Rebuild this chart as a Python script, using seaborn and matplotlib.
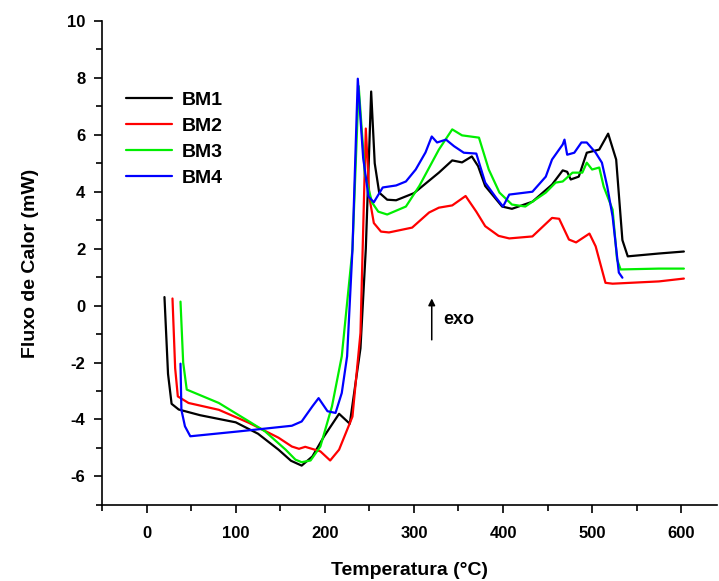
import numpy as np
import pandas as pd
import matplotlib
matplotlib.use('Agg')
import matplotlib.pyplot as plt
import seaborn as sns

# Curvas DSC (Temperatura em °C, Fluxo de calor em mW)
bm1_t = [20, 24, 28, 36, 60, 100, 125, 148, 162, 174, 186, 199, 216, 228, 240, 246,
         252, 256, 261, 270, 280, 300, 328, 343, 354, 365, 372, 380, 399, 410, 433,
         455, 467, 472, 476, 485, 494, 508, 518, 527, 534, 540, 575, 603]
bm1_y = [0.3, -2.4, -3.45, -3.65, -3.85, -4.1, -4.5, -5.06, -5.45, -5.62, -5.3, -4.6,
         -3.8, -4.15, -1.5, 2.0, 7.52, 5.0, 3.97, 3.72, 3.7, 3.95, 4.67, 5.1, 5.03,
         5.24, 4.9, 4.2, 3.48, 3.4, 3.65, 4.25, 4.75, 4.7, 4.43, 4.53, 5.37, 5.48,
         6.04, 5.13, 2.3, 1.73, 1.83, 1.9]

bm2_t = [29, 32, 35, 47, 81, 115, 148, 163, 171, 178, 195, 206, 216, 231, 240, 246,
         250, 255, 263, 272, 298, 317, 328, 343, 358, 370, 380, 395, 407, 433, 455,
         463, 474, 482, 497, 504, 515, 523, 575, 603]
bm2_y = [0.25, -2.2, -3.19, -3.42, -3.66, -4.12, -4.64, -4.95, -5.03, -4.96, -5.12,
         -5.44, -5.06, -3.9, -0.96, 6.22, 3.8, 2.9, 2.6, 2.57, 2.74, 3.27, 3.44, 3.52,
         3.85, 3.3, 2.79, 2.45, 2.36, 2.43, 3.08, 3.05, 2.32, 2.22, 2.53, 2.08, 0.8,
         0.77, 0.85, 0.95]

bm3_t = [38, 41, 45, 81, 115, 133, 156, 167, 174, 184, 195, 208, 219, 231, 238, 245,
         253, 260, 270, 291, 306, 328, 343, 354, 373, 384, 396, 410, 425, 448, 459,
         467, 478, 489, 494, 500, 508, 513, 523, 528, 532, 575, 603]
bm3_y = [0.14, -2.0, -2.95, -3.42, -4.07, -4.42, -5.06, -5.41, -5.5, -5.44, -4.95,
         -3.54, -1.78, 1.97, 7.71, 4.6, 3.62, 3.3, 3.2, 3.48, 4.2, 5.48, 6.19, 5.98,
         5.9, 4.78, 3.97, 3.55, 3.48, 3.97, 4.32, 4.36, 4.67, 4.67, 5.02, 4.78, 4.85,
         4.18, 3.37, 1.62, 1.27, 1.3, 1.3]

bm4_t = [38, 39, 43, 49, 103, 163, 174, 186, 193, 203, 212, 219, 225, 231, 237, 243,
         249, 255, 265, 280, 291, 302, 313, 320, 326, 336, 345, 356, 370, 380, 392,
         400, 407, 433, 448, 455, 467, 469, 472, 480, 488, 494, 504, 511, 517, 523,
         530, 534]
bm4_y = [-2.04, -3.66, -4.24, -4.59, -4.42, -4.22, -4.07, -3.54, -3.25, -3.71, -3.77,
         -3.07, -1.78, 1.97, 7.97, 5.2, 3.83, 3.63, 4.15, 4.22, 4.36, 4.78, 5.38,
         5.94, 5.73, 5.83, 5.6, 5.37, 5.34, 4.32, 3.8, 3.48, 3.9, 4.0, 4.53, 5.13,
         5.66, 5.83, 5.3, 5.37, 5.73, 5.73, 5.37, 5.02, 4.18, 3.13, 1.16, 0.98]

amostras = ['BM1', 'BM2', 'BM3', 'BM4']
cores = ['#000000', '#ff0000', '#00ee00', '#0000ff']

frames = []
for nome, t, y in zip(amostras, [bm1_t, bm2_t, bm3_t, bm4_t], [bm1_y, bm2_y, bm3_y, bm4_y]):
    frames.append(pd.DataFrame({'Temperatura': t, 'Fluxo': y, 'Amostra': nome}))
df = pd.concat(frames, ignore_index=True)

sns.set_style('white')
plt.rcParams['font.family'] = ['Liberation Sans', 'DejaVu Sans']
plt.rcParams['font.weight'] = 'bold'
plt.rcParams['text.color'] = 'black'
plt.rcParams['axes.labelcolor'] = 'black'
plt.rcParams['xtick.color'] = 'black'
plt.rcParams['ytick.color'] = 'black'
plt.rcParams['axes.unicode_minus'] = False

fig = plt.figure(figsize=(7.19, 5.81), dpi=100)
ax = fig.add_axes([0.142, 0.131, 0.855, 0.833])

sns.lineplot(data=df, x='Temperatura', y='Fluxo', hue='Amostra', palette=cores,
             sort=False, estimator=None, linewidth=1.6, ax=ax)

ax.set_xlim(-50, 640)
ax.set_ylim(-7, 10)
ax.set_xticks(range(0, 601, 100))
ax.set_xticks(range(-50, 641, 50), minor=True)
ax.set_yticks(range(-6, 11, 2))
ax.set_yticks(range(-7, 11, 1), minor=True)
ax.tick_params(axis='both', which='major', direction='out', length=6, width=1.2,
               labelsize=12, colors='black', bottom=True, left=True)
ax.tick_params(axis='both', which='minor', direction='out', length=4, width=1.2,
               bottom=True, left=True)
for lab in ax.get_xticklabels() + ax.get_yticklabels():
    lab.set_fontweight('bold')
ax.tick_params(axis='x', pad=9)
ax.tick_params(axis='y', pad=6)

for s in ['top', 'right']:
    ax.spines[s].set_visible(False)
for s in ['left', 'bottom']:
    ax.spines[s].set_color('black')
    ax.spines[s].set_linewidth(1.2)

ax.set_xlabel('Temperatura (°C)', fontsize=14, fontweight='bold', labelpad=15)
ax.set_ylabel('Fluxo de Calor (mW)', fontsize=14, fontweight='bold', labelpad=20)

leg = ax.legend(loc='upper left', bbox_to_anchor=(0.01, 0.89), frameon=False,
                fontsize=14, handlelength=2.4, labelspacing=0.42, handletextpad=0.5)
for txt in leg.get_texts():
    txt.set_fontweight('bold')

ax.annotate('', xy=(320, 0.35), xytext=(320, -1.3),
            arrowprops=dict(arrowstyle='-|>', color='black', lw=1.1, mutation_scale=10))
ax.text(333, -0.5, 'exo', fontsize=13, fontweight='bold', va='center')

fig.savefig('out.png', dpi=100)
